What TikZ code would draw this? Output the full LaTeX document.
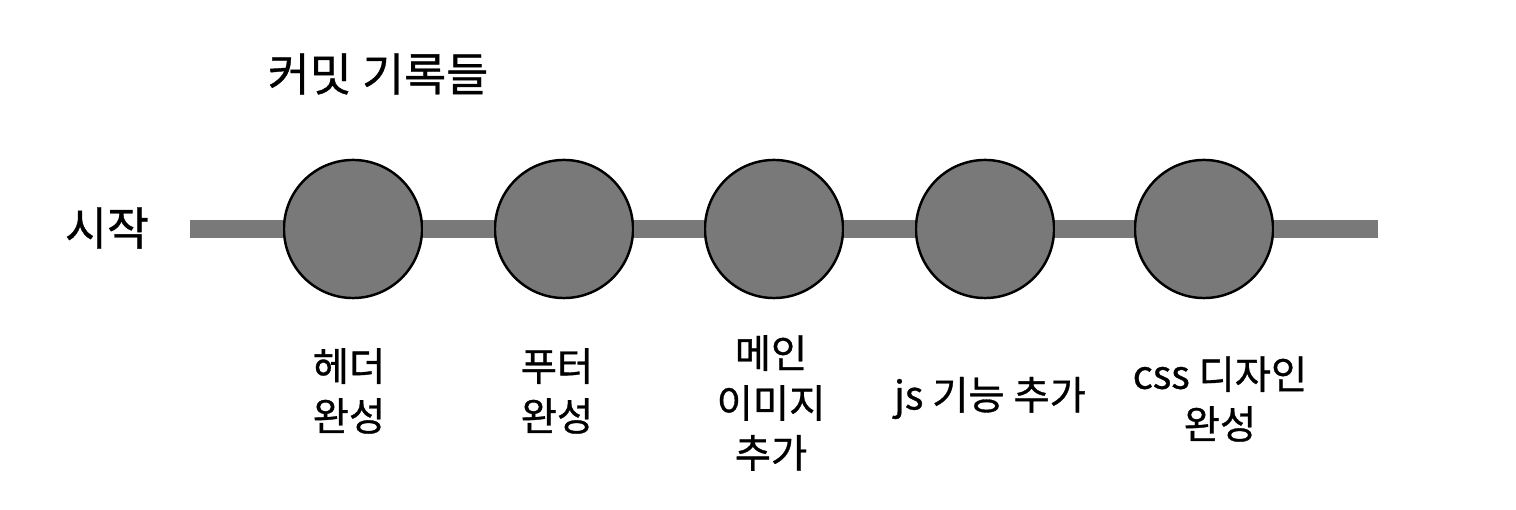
\documentclass[tikz,border=0pt]{standalone}
\usepackage{fontspec}
\setmainfont[FakeBold=0.8,AutoFakeBold=0.8]{Noto Sans CJK KR}
\tikzset{
  commit/.style={circle,draw=black,line width=0.7pt,fill=commitgray,minimum size=1.38cm,inner sep=0pt},
  timeline/.style={draw=commitgray,line width=0.175cm},
  msg/.style={align=center,font=\fontsize{11.2}{14.2}\selectfont\bfseries,inner sep=0pt},
  head/.style={font=\fontsize{13}{15}\selectfont\bfseries,inner sep=0pt}
}
\definecolor{commitgray}{RGB}{121,121,121}
\begin{document}
\begin{tikzpicture}[x=0.01cm,y=-0.01cm]
    \useasboundingbox (0,0) rectangle (1516,510);

    \node[head] (title) at (378,74) {커밋 기록들};
    \node[head] (start) at (107,228) {시작};

    \coordinate (lineL) at (190,229);
    \coordinate (lineR) at (1378,229);

    \node[commit] (c1) at (353,229) {};
    \node[commit] (c2) at (564,229) {};
    \node[commit] (c3) at (774,229) {};
    \node[commit] (c4) at (985,229) {};
    \node[commit] (c5) at (1204,229) {};

    \draw[timeline] (lineL) -- (c1) -- (c2) -- (c3) -- (c4) -- (c5) -- (lineR);

    \node[msg] (m1) at (349,391) {헤더\\완성};
    \node[msg] (m2) at (557,391) {푸터\\완성};
    \node[msg] (m3) at (771,403) {메인\\이미지\\추가};
    \node[msg] (m4) at (990,398) {js 기능 추가};
    \node[msg] (m5) at (1220,399) {css 디자인\\완성};

  \end{tikzpicture}
\end{document}
